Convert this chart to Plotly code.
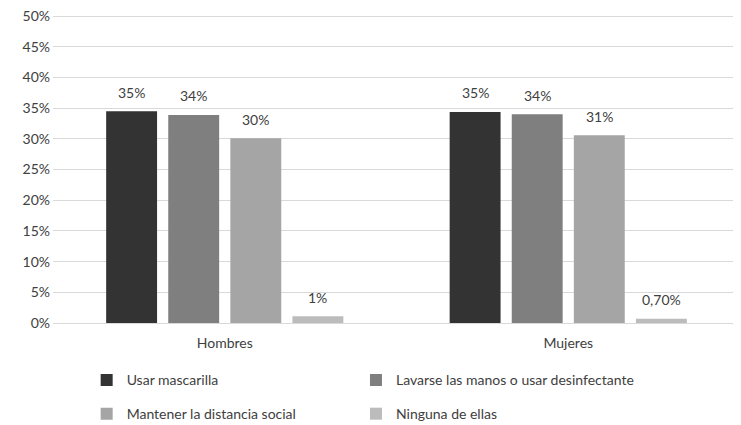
import plotly.graph_objects as go

categories = ["Hombres", "Mujeres"]
series_names = ["Usar mascarilla", "Lavarse las manos o usar desinfectante",
                "Mantener la distancia social", "Ninguna de ellas"]
values = [
    [34.5, 34.4],
    [33.9, 34.0],
    [30.1, 30.6],
    [1.1, 0.7],
]
labels = [
    ["35%", "35%"],
    ["34%", "34%"],
    ["30%", "31%"],
    ["1%", "0,70%"],
]
colors = ["#333333", "#7f7f7f", "#a5a5a5", "#bcbcbc"]
yticks = [0, 5, 10, 15, 20, 25, 30, 35, 40, 45, 50]

font_family = "Lato, Open Sans, sans-serif"
text_color = "#404040"
bargap = 0.277
n_series = len(series_names)
slot = (1 - bargap) / n_series

legend_ids = ["legend", "legend2", "legend3", "legend4"]
legend_x = [0.049, 0.441, 0.049, 0.441]
legend_y = [-0.183, -0.183, -0.291, -0.291]

fig = go.Figure()
annotations = []
for i, (name, vals, labs, col) in enumerate(zip(series_names, values, labels, colors)):
    fig.add_trace(go.Bar(
        x=categories, y=vals, name=name,
        marker=dict(color=col, line=dict(width=0)),
        legend=legend_ids[i],
        hoverinfo="skip",
    ))
    for c, (v, t) in enumerate(zip(vals, labs)):
        annotations.append(dict(
            x=c + (i - (n_series - 1) / 2) * slot, y=v, xref="x", yref="y",
            text=t, showarrow=False, yshift=19, yanchor="middle",
            font=dict(size=14, color=text_color, family=font_family),
        ))

legend_layout = {}
for lid, lx, ly in zip(legend_ids, legend_x, legend_y):
    legend_layout[lid] = dict(
        orientation="h", xanchor="left", yanchor="middle", x=lx, y=ly,
        itemwidth=30, font=dict(size=14, color=text_color, family=font_family),
        bgcolor="rgba(0,0,0,0)",
    )

fig.update_layout(
    width=733, height=417,
    margin=dict(l=45, r=1, t=2, b=102, autoexpand=False),
    paper_bgcolor="white", plot_bgcolor="white",
    barmode="group", bargap=bargap, bargroupgap=0.18,
    font=dict(family=font_family, size=14, color=text_color),
    showlegend=True,
    annotations=annotations,
    xaxis=dict(showgrid=False, showline=False, ticks="", tickfont=dict(size=14),
               ticklabelstandoff=10, fixedrange=True),
    yaxis=dict(range=[0, 51], tickvals=yticks, ticktext=[f"{v}%" for v in yticks],
               showgrid=True, gridcolor="#d9d9d9", gridwidth=1, zeroline=True,
               zerolinecolor="#d9d9d9", zerolinewidth=1, showline=False,
               ticks="", tickfont=dict(size=14), ticklabelstandoff=2,
               ticklabeloverflow="allow", fixedrange=True),
    **legend_layout,
)

fig.write_html("out.html")
